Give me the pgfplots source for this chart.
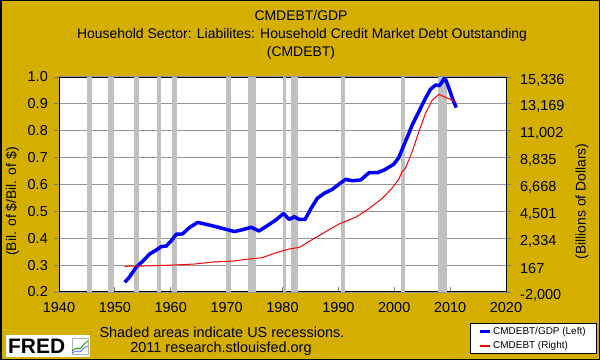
\documentclass[border=0pt]{standalone}
\usepackage{pgfplots}
\pgfplotsset{compat=1.18}
\usepackage{fontspec}
\setmainfont{Liberation Sans}
\definecolor{fredgold}{RGB}{212,175,0}
\definecolor{recgray}{RGB}{192,192,192}
\definecolor{gridgray}{rgb}{0.58,0.58,0.6}
\pgfplotsset{
  fredax/.style={
    at={(59bp,68bp)}, anchor=south west, scale only axis,
    width=447bp, height=215bp,
    xmin=1940, xmax=2020,
    /pgf/number format/assume math mode=true,
    ticklabel style={font=\fontsize{14.5}{16}\selectfont},
    label style={font=\fontsize{14}{16}\selectfont},
  }
}
\begin{document}
\begin{tikzpicture}
\fill[fredgold] (0,0) rectangle (600bp,360bp);
\node[font=\fontsize{14}{16}\selectfont] at (301bp,344bp) {CMDEBT/GDP};
\node[font=\fontsize{14}{16}\selectfont] at (302bp,325.5bp) {Household Sector: Liabilites: Household Credit Market Debt Outstanding};
\node[font=\fontsize{14}{16}\selectfont] at (301bp,307bp) {(CMDEBT)};

\begin{axis}[fredax,
  axis background/.style={fill=white},
  ymin=0.2, ymax=1.0,
  ytick={0.2,0.3,0.4,0.5,0.6,0.7,0.8,0.9,1.0},
  yticklabel style={/pgf/number format/fixed, /pgf/number format/fixed zerofill, /pgf/number format/precision=1, anchor=east, inner sep=0pt, xshift=-6bp},
  xtick={1940,1950,...,2020},
  xticklabel style={/pgf/number format/1000 sep={}, anchor=north, inner sep=0pt, yshift=-10.5bp},
  xtick pos=bottom, ytick pos=left,
  xtick align=inside, ytick align=outside,
  major tick length=5bp,
  major tick style={line width=0.8bp},
  ymajorgrids=true,
  major grid style={draw=gridgray, line width=1.2bp},
  axis line style={black, line width=1bp},
  ylabel={(Bil. of \$/Bil. of \$)},
  ylabel style={at={(axis description cs:-0.104,0.421)}, anchor=center},
]
\addplot[fill=recgray, draw=none, forget plot] coordinates {(1945.1,1) (1945.85,1)} \closedcycle;
\addplot[fill=recgray, draw=none, forget plot] coordinates {(1948.85,1) (1949.8,1)} \closedcycle;
\addplot[fill=recgray, draw=none, forget plot] coordinates {(1953.5,1) (1954.4,1)} \closedcycle;
\addplot[fill=recgray, draw=none, forget plot] coordinates {(1957.6,1) (1958.3,1)} \closedcycle;
\addplot[fill=recgray, draw=none, forget plot] coordinates {(1960.25,1) (1961.1,1)} \closedcycle;
\addplot[fill=recgray, draw=none, forget plot] coordinates {(1969.9,1) (1970.85,1)} \closedcycle;
\addplot[fill=recgray, draw=none, forget plot] coordinates {(1973.85,1) (1975.2,1)} \closedcycle;
\addplot[fill=recgray, draw=none, forget plot] coordinates {(1980.0,1) (1980.55,1)} \closedcycle;
\addplot[fill=recgray, draw=none, forget plot] coordinates {(1981.5,1) (1982.85,1)} \closedcycle;
\addplot[fill=recgray, draw=none, forget plot] coordinates {(1990.5,1) (1991.2,1)} \closedcycle;
\addplot[fill=recgray, draw=none, forget plot] coordinates {(2001.2,1) (2001.9,1)} \closedcycle;
\addplot[fill=recgray, draw=none, forget plot] coordinates {(2007.9,1) (2009.5,1)} \closedcycle;
\addplot[color={rgb,255:red,0;green,0;blue,255}, line width=3.5bp, line join=round] table {
1951.75 0.236
1952.6 0.255
1953.8 0.292
1955.0 0.315
1956.2 0.341
1957.4 0.356
1958.3 0.369
1959.2 0.371
1960.1 0.391
1961.0 0.415
1962.1 0.416
1963.3 0.439
1964.8 0.459
1966.3 0.452
1968.1 0.443
1969.9 0.433
1971.4 0.425
1972.9 0.432
1974.4 0.441
1975.8 0.427
1977.3 0.447
1978.8 0.468
1980.2 0.492
1981.2 0.470
1982.1 0.480
1983.0 0.470
1984.05 0.470
1985.1 0.511
1986.25 0.549
1987.45 0.567
1988.9 0.582
1990.1 0.601
1991.3 0.619
1992.5 0.614
1994.0 0.617
1995.5 0.644
1997.0 0.644
1998.2 0.654
1999.9 0.675
2000.8 0.700
2001.7 0.745
2002.6 0.790
2003.2 0.821
2004.4 0.871
2005.6 0.921
2006.5 0.955
2007.4 0.970
2008.1 0.968
2008.6 0.983
2009.05 0.998
2009.8 0.958
2010.4 0.921
2011.1 0.886
};
\end{axis}

\begin{axis}[fredax,
  ymin=-2000, ymax=15336,
  axis x line=none,
  axis y line*=right,
  ytick={-2000,167,2334,4501,6668,8835,11002,13169,15336},
  scaled y ticks=false,
  yticklabel style={/pgf/number format/1000 sep={,}, anchor=west, inner sep=0pt, xshift=9bp, yshift=-3bp},
  ytick align=outside, major tick length=5bp,
  major tick style={line width=0.8bp},
  axis line style={black, line width=1bp},
  ylabel={(Billions of Dollars)},
  ylabel style={at={(axis description cs:1.170,0.421)}, anchor=center},
  legend style={at={(axis description cs:1.2036,-0.2884)}, anchor=south east,
    draw=black, line width=0.8bp, fill=white,
    font=\fontsize{10}{10.5}\selectfont,
    inner xsep=9bp, inner ysep=1.5bp, row sep=1.5bp},
  legend cell align=left,
  legend image code/.code={\draw[#1, line width=2.2bp] (0bp,0bp) -- (10bp,0bp);},
]
\addlegendimage{color={rgb,255:red,0;green,0;blue,255}}
\addlegendentry{CMDEBT/GDP (Left)}
\addplot[color={rgb,255:red,255;green,0;blue,0}, line width=1bp] table {
1951.75 74
1955.0 95
1960.7 178
1964.2 254
1967.8 427
1971.1 492
1973.5 635
1976.4 765
1978.8 1164
1981.2 1467
1983.0 1597
1985.4 2247
1987.75 2865
1990.1 3483
1993.1 4024
1995.5 4739
1997.9 5563
1999.6 6365
2000.8 7080
2001.4 7708
2002.0 7968
2003.2 9312
2004.4 10915
2005.6 12411
2006.8 13472
2008.0 13938
2009.2 13689
2010.4 13472
2011.1 13299
};
\addlegendentry{CMDEBT (Right)}
\end{axis}

\node[font=\fontsize{14.5}{16}\selectfont] at (222bp,28bp) {Shaded areas indicate US recessions.};
\node[font=\fontsize{14.5}{16}\selectfont] at (221bp,11bp) {2011 research.stlouisfed.org};

\fill[white] (5.7bp,3bp) rectangle (90bp,25bp);
\node[anchor=west, inner sep=0pt, font=\bfseries\fontsize{21}{21}\selectfont] at (8bp,14bp) {FRED};
\draw[gray!60, line width=0.4bp] (72bp,6bp) rectangle (88bp,22bp);
\draw[green!60!black, line width=0.8bp] (72bp,9bp) -- (76bp,12bp) -- (80bp,11bp) -- (84bp,16bp) -- (88bp,19bp);
\draw[blue!60, line width=0.8bp] (72bp,7bp) -- (76bp,9bp) -- (80bp,8bp) -- (84bp,12bp) -- (88bp,14bp);

\draw[black, line width=1.5bp] (0.75bp,0.75bp) rectangle (599.25bp,359.25bp);
\pgfresetboundingbox
\useasboundingbox (0,0) rectangle (600bp,360bp);
\end{tikzpicture}
\end{document}
